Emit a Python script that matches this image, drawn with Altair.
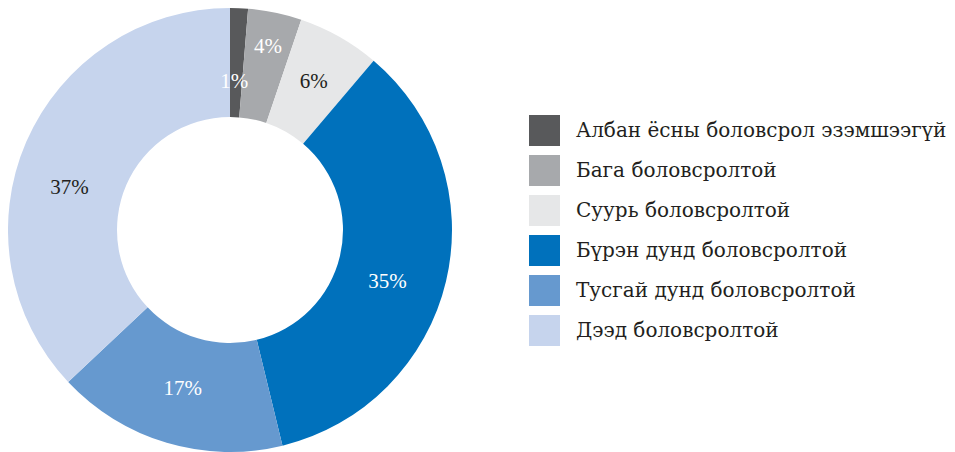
import altair as alt
import pandas as pd

categories = [
    "Албан ёсны боловсрол эзэмшээгүй",
    "Бага боловсролтой",
    "Суурь боловсролтой",
    "Бүрэн дунд боловсролтой",
    "Тусгай дунд боловсролтой",
    "Дээд боловсролтой",
]
values = [1.3, 3.9, 6.0, 35.0, 16.8, 37.0]
labels = ["1%", "4%", "6%", "35%", "17%", "37%"]
colors = ["#58595b", "#a7a9ac", "#e6e7e8", "#0071bc", "#6699cf", "#c6d4ed"]

df = pd.DataFrame({
    "cat": categories,
    "value": values,
    "label": labels,
    "idx": list(range(len(categories))),
})

FONT = "DejaVu Serif"
LABEL_FONT = "Liberation Serif"
DARK = "#231f20"

base = alt.Chart(df).transform_window(
    cum="sum(value)", sort=[alt.SortField("idx", order="ascending")], frame=[None, 0]
).transform_calculate(
    # label anchor: mid-angle of each slice, with small nudges as in the original
    mid="datum.cum - datum.value / 2"
        " + (datum.label === '35%' ? 1.4 : 0)"
        " + (datum.label === '37%' ? -2.4 : 0)"
        " + (datum.label === '1%' ? -0.2 : 0)",
    r="datum.label === '1%' ? 148 : (datum.label === '4%' ? 187 : (datum.label === '6%' ? 170 : 166))",
)

arcs = base.mark_arc(radius=222, innerRadius=113).encode(
    theta=alt.Theta("value:Q", stack=True, scale=alt.Scale(domain=[0, 100])),
    order=alt.Order("idx:Q"),
    color=alt.Color(
        "cat:N",
        sort=categories,
        scale=alt.Scale(domain=categories, range=colors),
        legend=alt.Legend(
            title=None,
            orient="none",
            legendX=521,
            legendY=107,
            symbolType="square",
            symbolSize=961,
            symbolStrokeWidth=0,
            symbolOpacity=1,
            labelFont=FONT,
            labelFontSize=20,
            labelColor=DARK,
            labelOffset=16,
            rowPadding=9,
            padding=0,
            labelLimit=500,
        ),
    ),
)

texts = base.mark_text(font=LABEL_FONT, fontSize=21, align="center", baseline="middle").encode(
    theta=alt.Theta("mid:Q", stack=None, scale=alt.Scale(domain=[0, 100])),
    radius=alt.Radius("r:Q", scale=None),
    text="label:N",
    color=alt.condition(
        alt.FieldOneOfPredicate(field="label", oneOf=["6%", "37%"]),
        alt.value(DARK),
        alt.value("white"),
    ),
)

chart = (arcs + texts).properties(width=444, height=444, padding=0).configure_view(stroke=None)

chart.save("out.html", embed_options={"renderer": "svg", "actions": False})
